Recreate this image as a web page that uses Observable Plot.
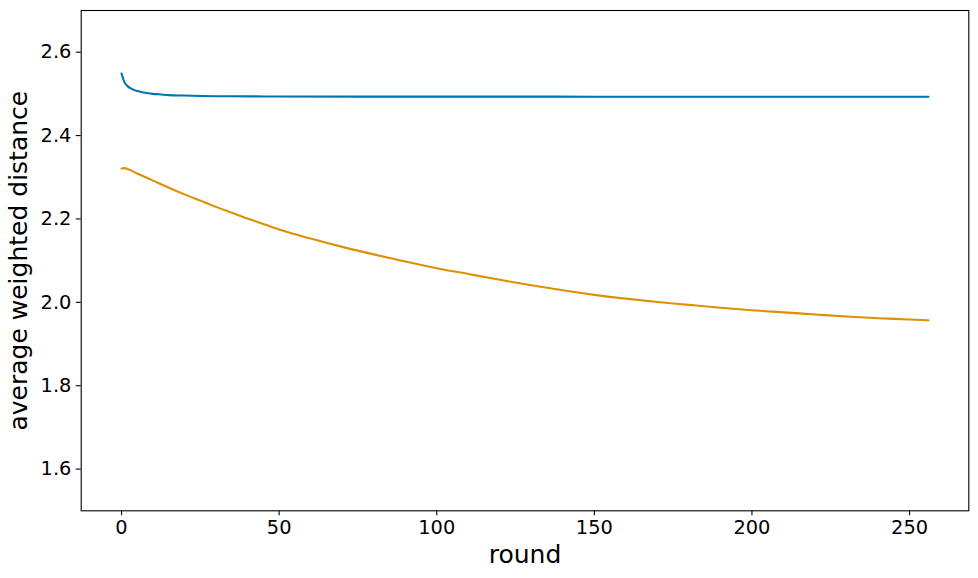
<!DOCTYPE html>
<html>
<head>
<meta charset="utf-8">
<script src="https://cdn.jsdelivr.net/npm/d3@7"></script>
<script src="https://cdn.jsdelivr.net/npm/@observablehq/plot@0.6"></script>
<style>
  html, body { margin: 0; padding: 0; background: #fff; }
  #chart svg { display: block; }
</style>
</head>
<body>
<div id="chart"></div>
<script>
const blueRounds = [0, 1, 2, 3, 4, 5, 6, 8, 10, 12, 15, 20, 25, 30, 40, 50, 75, 100, 125, 150, 175, 200, 225, 256];
const blueValues = [2.549, 2.527, 2.518, 2.513, 2.509, 2.507, 2.505, 2.502, 2.500, 2.499, 2.497, 2.496, 2.495, 2.4945, 2.494, 2.4937, 2.4935, 2.4934, 2.4934, 2.4933, 2.4933, 2.4933, 2.4932, 2.4932];

const orangeRounds = [0, 1, 2, 5, 10, 15, 20, 25, 30, 35, 40, 45, 50, 60, 70, 80, 90, 100, 110, 120, 130, 140, 150, 160, 170, 180, 190, 200, 210, 220, 230, 240, 250, 256];
const orangeValues = [2.321, 2.322, 2.3195, 2.309, 2.292, 2.275, 2.259, 2.244, 2.229, 2.215, 2.201, 2.188, 2.175, 2.153, 2.133, 2.115, 2.098, 2.082, 2.068, 2.054, 2.041, 2.029, 2.018, 2.009, 2.001, 1.994, 1.987, 1.981, 1.976, 1.971, 1.966, 1.962, 1.959, 1.957];

const xTicks = [0, 50, 100, 150, 200, 250];
const yTicks = [1.6, 1.8, 2.0, 2.2, 2.4, 2.6];
const xLabel = "round";
const yLabel = "average weighted distance";

const blue = blueRounds.map((r, i) => ({round: r, value: blueValues[i]}));
const orange = orangeRounds.map((r, i) => ({round: r, value: orangeValues[i]}));

const chart = Plot.plot({
  width: 978,
  height: 578,
  marginLeft: 80.7,
  marginRight: 9.7,
  marginTop: 10,
  marginBottom: 67.7,
  style: {fontFamily: "DejaVu Sans", fontSize: "19.4px", color: "black", background: "white"},
  x: {domain: [-12.8, 268.8]},
  y: {domain: [1.5, 2.7]},
  marks: [
    Plot.frame({stroke: "black", strokeWidth: 1.1}),
    Plot.axisX({ticks: xTicks, tickSize: 4.9, tickPadding: 4.9, tickFormat: d3.format("d"), label: null, strokeWidth: 1.1}),
    Plot.axisY({ticks: yTicks, tickSize: 4.9, tickPadding: 4.9, tickFormat: d3.format(".1f"), label: null, strokeWidth: 1.1}),
    Plot.line(blue, {x: "round", y: "value", stroke: "#0173b2", strokeWidth: 2.1, curve: "monotone-x"}),
    Plot.line(orange, {x: "round", y: "value", stroke: "#de8f05", strokeWidth: 2.1, curve: "monotone-x"}),
    Plot.text([xLabel], {frameAnchor: "bottom", text: d => d, dy: 52.4, lineAnchor: "bottom", fontSize: 25, fill: "black"}),
    Plot.text([yLabel], {frameAnchor: "left", text: d => d, dx: -54, rotate: -90, textAnchor: "middle", lineAnchor: "bottom", fontSize: 25, fill: "black"})
  ]
});
document.getElementById("chart").appendChild(chart);
</script>
</body>
</html>
